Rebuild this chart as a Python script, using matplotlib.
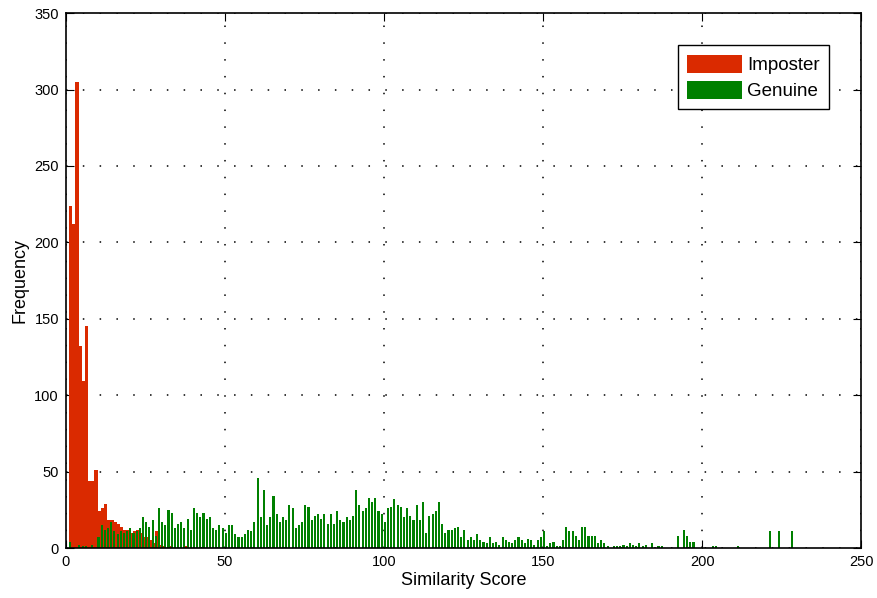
import numpy as np
import matplotlib
matplotlib.use("Agg")
import matplotlib.pyplot as plt

plt.rcParams['font.family'] = ['Liberation Sans', 'DejaVu Sans']

# histogram counts per unit score bin, starting at score 1
imposter = [224, 212, 305, 132, 109, 145, 44, 44, 51, 24,
            26, 29, 18, 18, 17, 16, 14, 12, 12, 10,
            11, 12, 10, 7, 7, 5, 3, 11, 2, 1,
            0, 1, 0, 0, 0, 0, 1]

genuine = [4, 0, 0, 2, 1, 1, 0, 2, 0, 7,
           15, 12, 13, 17, 11, 9, 11, 10, 11, 13,
           10, 11, 13, 20, 17, 14, 18, 8, 26, 17,
           15, 25, 23, 13, 16, 17, 13, 19, 12, 26,
           23, 20, 23, 19, 20, 13, 12, 15, 13, 10,
           15, 15, 9, 7, 7, 9, 12, 11, 17, 46,
           20, 38, 15, 20, 34, 22, 17, 20, 18, 28,
           26, 13, 15, 17, 28, 27, 18, 21, 22, 19,
           22, 16, 22, 16, 24, 18, 17, 20, 18, 21,
           38, 28, 24, 26, 33, 30, 33, 24, 22, 17,
           26, 27, 32, 28, 27, 20, 26, 21, 18, 28,
           18, 30, 10, 21, 22, 24, 30, 16, 10, 12,
           12, 13, 14, 7, 12, 5, 7, 5, 9, 5,
           4, 3, 7, 3, 4, 2, 7, 5, 4, 3,
           5, 7, 5, 3, 6, 5, 2, 5, 7, 11,
           1, 3, 4, 1, 1, 5, 14, 11, 11, 8,
           5, 14, 14, 8, 8, 8, 3, 5, 3, 1,
           0, 1, 1, 1, 2, 1, 3, 2, 1, 3,
           1, 2, 0, 3, 0, 1, 1, 0, 0, 0,
           0, 8, 0, 12, 8, 4, 4, 0, 0, 0,
           0, 0, 1, 1, 0, 0, 0, 0, 0, 0,
           1, 0, 0, 0, 0, 0, 0, 0, 0, 0,
           11, 0, 0, 11, 0, 0, 0, 11]

xticks = [0, 50, 100, 150, 200, 250]
yticks = [0, 50, 100, 150, 200, 250, 300, 350]

red = '#DA2A00'
green = '#008000'

fig = plt.figure(figsize=(8.78, 5.98), dpi=100)
ax = fig.add_axes([0.075, 0.0836, 0.906, 0.8945])

s_imp = np.arange(1, len(imposter) + 1)
s_gen = np.arange(1, len(genuine) + 1)
ax.bar(s_imp, imposter, width=1.0, align='edge', color=red, linewidth=0,
       antialiased=False, label='Imposter', zorder=2)
ax.bar(s_gen + 0.25, genuine, width=0.66, color=green, linewidth=0,
       antialiased=False, label='Genuine', zorder=3)

ax.set_xlim(0, 250)
ax.set_ylim(0, 350)
ax.set_xticks(xticks)
ax.set_yticks(yticks)
ax.tick_params(direction='in', length=6, width=0.8, labelsize=10.5,
               top=True, right=True, pad=5)
ax.grid(True, color='black', linestyle=(0, (1, 10)), linewidth=1.1, zorder=1)
ax.set_axisbelow(True)
for sp in ax.spines.values():
    sp.set_linewidth(1.2)
    sp.set_zorder(5)

ax.set_xlabel('Similarity Score', fontsize=13, labelpad=2)
ax.set_ylabel('Frequency', fontsize=13, labelpad=4)

leg = ax.legend(loc='upper right', bbox_to_anchor=(0.96, 0.94), fontsize=13.5,
                handlelength=2.9, handleheight=1.1, fancybox=False,
                edgecolor='black', framealpha=1, borderaxespad=0,
                handletextpad=0.3, labelspacing=0.35, borderpad=0.5)
leg.get_frame().set_linewidth(1.0)

fig.savefig('out.png', dpi=100)
